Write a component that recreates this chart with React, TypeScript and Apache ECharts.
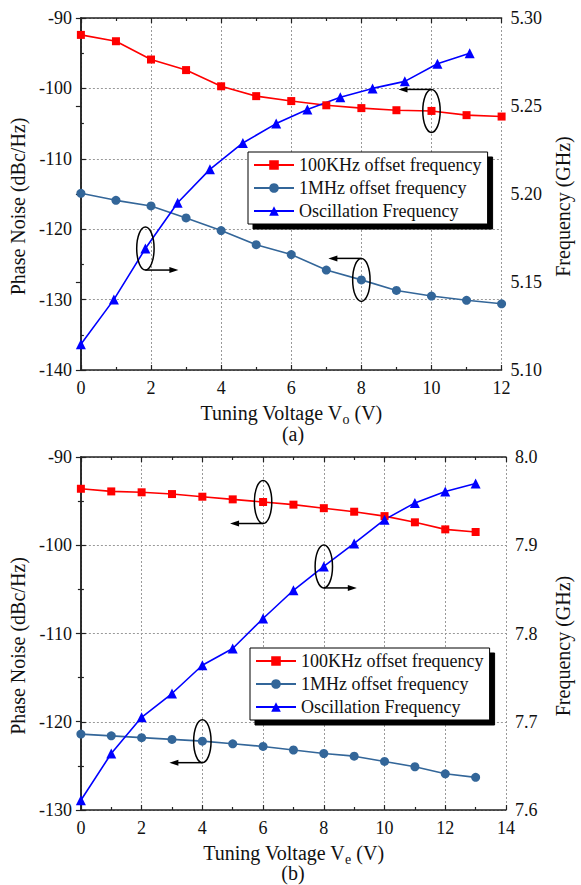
import React, { useEffect, useRef } from "react";
import * as echarts from "echarts";

// ---------- data ----------
const voltageA = [0, 1, 2, 3, 4, 5, 6, 7, 8, 9, 10, 11, 12];
const pn100kA = [-92.4, -93.3, -95.9, -97.4, -99.7, -101.1, -101.8, -102.4, -102.8, -103.1, -103.2, -103.8, -104.0];
const pn1MA = [-114.9, -115.9, -116.7, -118.4, -120.2, -122.2, -123.6, -125.8, -127.2, -128.7, -129.5, -130.1, -130.6];
const freqVoltA = [0, 0.94, 1.84, 2.76, 3.68, 4.62, 5.57, 6.46, 7.4, 8.32, 9.24, 10.17, 11.09];
const freqA = [5.1146, 5.14, 5.169, 5.195, 5.214, 5.229, 5.24, 5.248, 5.255, 5.26, 5.264, 5.274, 5.28];

const voltageB = [0, 1, 2, 3, 4, 5, 6, 7, 8, 9, 10, 11, 12, 13];
const pn100kB = [-93.6, -93.9, -94.0, -94.2, -94.5, -94.8, -95.1, -95.4, -95.8, -96.2, -96.7, -97.4, -98.2, -98.5];
const pn1MB = [-121.4, -121.6, -121.8, -122.0, -122.2, -122.5, -122.8, -123.2, -123.6, -123.9, -124.5, -125.1, -125.9, -126.3];
const freqB = [7.611, 7.664, 7.705, 7.732, 7.764, 7.783, 7.817, 7.849, 7.876, 7.902, 7.929, 7.948, 7.961, 7.97];

const seriesNames = ["100KHz offset frequency", "1MHz offset frequency", "Oscillation Frequency"];

// annotations: [seriesIndex, pointIndex, side of ellipse where arrow starts, arrow direction]
const annotations: [number, number, "top" | "bottom", number][] = [
  [0, 10, "top", -1],
  [2, 2, "bottom", 1],
  [1, 8, "top", -1],
  [3, 6, "bottom", -1],
  [5, 8, "bottom", 1],
  [4, 4, "bottom", -1],
];

const FONT = "Liberation Serif";
const RED = "#ff0000";
const STEEL = "#336699";
const BLUE = "#0000ff";
const AXIS_COLOR = "#222";

const pairs = (xs: number[], ys: number[]) => xs.map((x, i) => [x, ys[i]]);

const tickLabel = { fontFamily: FONT, fontSize: 18, color: "#111", margin: 9 };

function xAxes(gridIndex: number, max: number, sub: string) {
  const common = {
    gridIndex,
    type: "value" as const,
    min: 0,
    max,
    interval: 2,
    axisLine: { show: true, onZero: false, lineStyle: { color: AXIS_COLOR, width: 1.5 } },
    axisTick: { show: true, inside: true, length: 5, lineStyle: { color: AXIS_COLOR, width: 1.2 } },
    minorTick: { show: true, splitNumber: 2, length: 3, lineStyle: { color: AXIS_COLOR, width: 1.2 } },
  };
  return [
    {
      ...common,
      position: "bottom",
      axisLabel: { ...tickLabel },
      splitLine: { show: true, lineStyle: { color: "#999", type: [2, 2], width: 1 } },
      name: `Tuning Voltage V{sub|${sub}} (V)`,
      nameLocation: "middle",
      nameGap: 29,
      nameTextStyle: {
        fontFamily: FONT,
        fontSize: 20,
        color: "#111",
        rich: { sub: { fontFamily: FONT, fontSize: 14, color: "#111", verticalAlign: "bottom", lineHeight: 27 } },
      },
    },
    {
      ...common,
      position: "top",
      axisLabel: { show: false },
      splitLine: { show: false },
    },
  ];
}

function yAxes(gridIndex: number, leftMin: number, rightMin: number, rightMax: number, rightInt: number, dec: number, rightMinor: boolean) {
  const line = { show: true, lineStyle: { color: AXIS_COLOR, width: 1.5 } };
  const tick = { show: true, inside: true, length: 5, lineStyle: { color: AXIS_COLOR, width: 1.2 } };
  return [
    {
      gridIndex,
      type: "value",
      position: "left",
      min: leftMin,
      max: -90,
      interval: 10,
      axisLine: line,
      axisTick: tick,
      minorTick: { show: true, splitNumber: 2, length: 3, lineStyle: { color: AXIS_COLOR, width: 1.2 } },
      axisLabel: { ...tickLabel },
      splitLine: { show: true, lineStyle: { color: "#999", type: [2, 2], width: 1 } },
      name: "Phase Noise (dBc/Hz)",
      nameLocation: "middle",
      nameGap: 50,
      nameTextStyle: { fontFamily: FONT, fontSize: 20, color: "#111", padding: [0, 25, 0, 0] },
    },
    {
      gridIndex,
      type: "value",
      position: "right",
      min: rightMin,
      max: rightMax,
      interval: rightInt,
      axisLine: line,
      axisTick: tick,
      minorTick: { show: rightMinor, splitNumber: 2, length: 3, lineStyle: { color: AXIS_COLOR, width: 1.2 } },
      axisLabel: {
        ...tickLabel,
        formatter: (v: number) => v.toFixed(dec),
      },
      splitLine: { show: false },
      name: "Frequency (GHz)",
      nameLocation: "middle",
      nameGap: 47,
      nameRotate: 90,
      nameTextStyle: { fontFamily: FONT, fontSize: 20, color: "#111", padding: [0, 25, 0, 0] },
    },
  ];
}

function legend(left: number, top: number) {
  return {
    orient: "vertical",
    left,
    top,
    data: seriesNames,
    itemWidth: 40,
    itemHeight: 12,
    itemGap: 5,
    padding: [4, 6, 4, 5],
    backgroundColor: "#fff",
    borderColor: "#000",
    borderWidth: 1,
    borderRadius: 0,
    shadowColor: "#000",
    shadowBlur: 0,
    shadowOffsetX: 5,
    shadowOffsetY: 5,
    selectedMode: false,
    textStyle: { fontFamily: FONT, fontSize: 18, color: "#111", padding: [0, 0, 0, 0] },
  };
}

function lineSeries(name: string, data: number[][], xi: number, yi: number, color: string, symbol: string, size: number) {
  return {
    name,
    type: "line",
    xAxisIndex: xi,
    yAxisIndex: yi,
    data,
    symbol,
    symbolSize: size,
    showSymbol: true,
    itemStyle: { color },
    lineStyle: { color, width: 1.6 },
    emphasis: { disabled: true },
  };
}

export default function App() {
  const ref = useRef<HTMLDivElement>(null);

  useEffect(() => {
    if (!ref.current) return;
    const chart = echarts.init(ref.current, null, { renderer: "svg" });
    const option: any = {
      animation: false,
      backgroundColor: "#fff",
      textStyle: { fontFamily: FONT },
      grid: [
        { left: 77, top: 18, width: 436, height: 352 },
        { left: 77, top: 457, width: 436, height: 353 },
      ],
      xAxis: [...xAxes(0, 12, "o"), ...xAxes(1, 14, "e")],
      yAxis: [...yAxes(0, -140, 5.1, 5.3, 0.05, 2, false), ...yAxes(1, -130, 7.6, 8.0, 0.1, 1, true)],
      legend: [legend(248, 152), legend(250, 648)],
      series: [
        lineSeries(seriesNames[0], pairs(voltageA, pn100kA), 0, 0, RED, "rect", 8),
        lineSeries(seriesNames[1], pairs(voltageA, pn1MA), 0, 0, STEEL, "circle", 9),
        lineSeries(seriesNames[2], pairs(freqVoltA, freqA), 0, 1, BLUE, "triangle", 10),
        lineSeries(seriesNames[0], pairs(voltageB, pn100kB), 2, 2, RED, "rect", 8),
        lineSeries(seriesNames[1], pairs(voltageB, pn1MB), 2, 2, STEEL, "circle", 9),
        lineSeries(seriesNames[2], pairs(voltageB, freqB), 2, 3, BLUE, "triangle", 10),
      ],
    };
    chart.setOption(option);

    const allData = [
      pairs(voltageA, pn100kA),
      pairs(voltageA, pn1MA),
      pairs(freqVoltA, freqA),
      pairs(voltageB, pn100kB),
      pairs(voltageB, pn1MB),
      pairs(voltageB, freqB),
    ];
    const rx = 8.7;
    const ry = 21.5;
    const arrowLen = 33;
    const graphics: any[] = [];
    annotations.forEach(([si, pi, side, dir]) => {
      const p = chart.convertToPixel({ seriesIndex: si }, allData[si][pi]) as number[];
      const cx = p[0];
      const cy = p[1];
      graphics.push({
        type: "ellipse",
        shape: { cx, cy, rx, ry },
        style: { fill: "none", stroke: "#000", lineWidth: 1.5 },
        z: 100,
      });
      const y0 = side === "top" ? cy - ry : cy + ry;
      const xEnd = cx + dir * arrowLen;
      graphics.push({
        type: "line",
        shape: { x1: cx, y1: y0, x2: xEnd - dir * 6, y2: y0 },
        style: { stroke: "#000", lineWidth: 1.5 },
        z: 100,
      });
      graphics.push({
        type: "polygon",
        shape: { points: [[xEnd, y0], [xEnd - dir * 9, y0 - 3], [xEnd - dir * 9, y0 + 3]] },
        style: { fill: "#000" },
        z: 100,
      });
    });
    graphics.push(
      { type: "text", x: 293, y: 434, style: { text: "(a)", font: `20px ${FONT}`, fill: "#111", align: "center", verticalAlign: "middle" } },
      { type: "text", x: 293, y: 873, style: { text: "(b)", font: `20px ${FONT}`, fill: "#111", align: "center", verticalAlign: "middle" } }
    );
    chart.setOption({ graphic: graphics });

    return () => chart.dispose();
  }, []);

  return <div ref={ref} style={{ position: "absolute", left: 0, top: 0, width: 581, height: 885 }} />;
}
